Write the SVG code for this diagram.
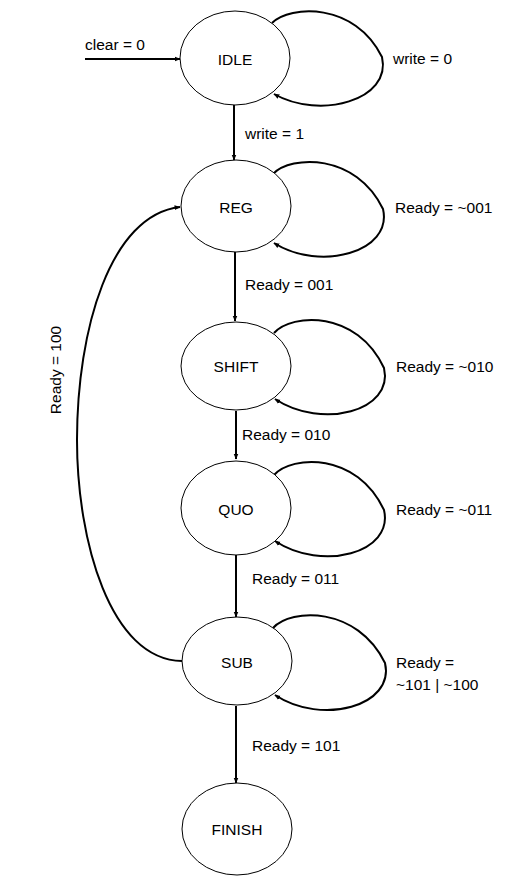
<svg xmlns="http://www.w3.org/2000/svg" width="514" height="888" viewBox="0 0 514 888">
<defs>
<marker id="ah" viewBox="0 0 10 10" refX="9" refY="5" markerWidth="6" markerHeight="6" orient="auto" markerUnits="userSpaceOnUse">
<path d="M0,1 L10,5 L0,9 z" fill="#000"/>
</marker>
<style>
.st{fill:#fff;stroke:#000;stroke-width:1}
.lb{font-family:"Liberation Sans","Open Sans",sans-serif;font-size:15.5px;fill:#000}
.c{text-anchor:middle}
.e{fill:none;stroke:#000;stroke-width:2;marker-end:url(#ah)}
</style>
</defs>
<rect width="514" height="888" fill="#fff"/>
<g id="connectors">
<path class="e" d="M85,59 L180,59"/>
<path class="e" d="M272,23 C290,5 355,2 382,57 C392,100 320,120 274,94"/>
<path class="e" d="M234,105 L234,160"/>
<path class="e" d="M273,174 C291,155 356,153 383,209 C393,252 320,272 274,243"/>
<path class="e" d="M235,252 L235,321"/>
<path class="e" d="M274,333 C292,313 357,310 384,368 C394,411 322,430 275,399"/>
<path class="e" d="M236,411 L236,459"/>
<path class="e" d="M274,475 C292,455 357,452 384,510 C394,553 322,572 275,541"/>
<path class="e" d="M236,555 L236,617"/>
<path class="e" d="M273,628 C291,608 357,606 385,663 C395,706 322,726 275,695"/>
<path class="e" d="M236,706 L236,783"/>
<path class="e" d="M182,661 C110,660 77,540 77,440 C77,330 110,215 180,207"/>
<text class="lb" x="85" y="50">clear = 0</text>
<text class="lb" x="393" y="64">write = 0</text>
<text class="lb" x="245" y="139">write = 1</text>
<text class="lb" x="395" y="213">Ready = ~001</text>
<text class="lb" x="245" y="290">Ready = 001</text>
<text class="lb" x="396" y="372">Ready = ~010</text>
<text class="lb" x="242" y="440">Ready = 010</text>
<text class="lb" x="396" y="515">Ready = ~011</text>
<text class="lb" x="252" y="584">Ready = 011</text>
<text class="lb" x="396" y="668">Ready =</text>
<text class="lb" x="396" y="690">~101 | ~100</text>
<text class="lb" x="252" y="751">Ready = 101</text>
<text class="lb c" transform="translate(61,370) rotate(-90)">Ready = 100</text>
</g>
<g id="IDLE"><ellipse class="st" cx="235" cy="58" rx="55" ry="47"/><text class="lb c" x="235" y="65">IDLE</text></g>
<g id="REG"><ellipse class="st" cx="236" cy="206" rx="55" ry="46"/><text class="lb c" x="236" y="213">REG</text></g>
<g id="SHIFT"><ellipse class="st" cx="236" cy="366" rx="55" ry="44"/><text class="lb c" x="236" y="372">SHIFT</text></g>
<g id="QUO"><ellipse class="st" cx="236" cy="508" rx="55" ry="47"/><text class="lb c" x="236" y="515">QUO</text></g>
<g id="SUB"><ellipse class="st" cx="237" cy="661" rx="55" ry="44"/><text class="lb c" x="237" y="668">SUB</text></g>
<g id="FINISH"><ellipse class="st" cx="237" cy="829" rx="55" ry="46"/><text class="lb c" x="237" y="835">FINISH</text></g>
</svg>
